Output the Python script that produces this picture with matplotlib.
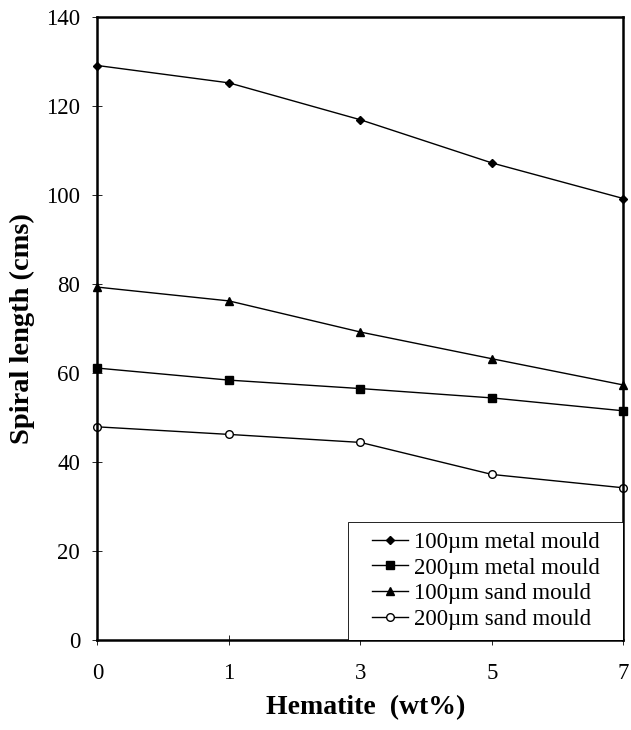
import matplotlib
matplotlib.use('Agg')
import matplotlib.pyplot as plt
from matplotlib.patches import Rectangle

plt.rcParams['font.family'] = ['Liberation Serif', 'DejaVu Serif']

hematite = ['0', '1', '3', '5', '7']
metal_100 = [129.1, 125.2, 116.9, 107.2, 99.2]
metal_200 = [61.1, 58.4, 56.5, 54.4, 51.5]
sand_100 = [79.3, 76.2, 69.2, 63.2, 57.3]
sand_200 = [47.9, 46.2, 44.4, 37.2, 34.2]

fig = plt.figure(figsize=(6.31, 7.30), dpi=100)
ax = fig.add_axes([0.1545, 0.1233, 0.8336, 0.8534])

x = range(len(hematite))
ax.plot(x, metal_100, '-D', color='black', lw=1, ms=4, clip_on=False, label='100µm metal mould')
ax.plot(x, metal_200, '-s', color='black', lw=1, ms=6, clip_on=False, label='200µm metal mould')
ax.plot(x, sand_100, '-^', color='black', lw=1, ms=6, clip_on=False, label='100µm sand mould')
ax.plot(x, sand_200, '-o', color='black', lw=1, ms=5.5, mfc='white', clip_on=False, label='200µm sand mould')

ax.set_xlim(0, len(hematite) - 1)
ax.set_ylim(0, 140)
ax.set_xticks(list(x))
ax.set_xticklabels(hematite)
ax.set_yticks(range(0, 141, 20))
ax.tick_params(labelsize=16.5, direction='inout', length=7, width=0.6)
ax.tick_params(axis='y', pad=9)
ax.tick_params(axis='x', pad=13)
for s in ax.spines.values():
    s.set_linewidth(1.8)

ax.set_ylabel('Spiral length (cms)', fontsize=20.5, fontweight='bold', va='center')
ax.yaxis.set_label_coords(-0.142, 0.5)
ax.set_xlabel('Hematite  (wt%)', fontsize=20, fontweight='bold', va='center')
ax.xaxis.set_label_coords(0.51, -0.108)

# legend box is wider than its content in the original
box = (0.476, 0.0, 0.524, 0.19)
ax.add_patch(Rectangle(box[:2], box[2], box[3], transform=ax.transAxes,
                       facecolor='white', edgecolor='black', lw=0.6, zorder=4))
ax.legend(loc='center', bbox_to_anchor=box, fontsize=16.5, frameon=False,
          handlelength=1.6, handletextpad=0.25, labelspacing=0.2,
          borderpad=0.2, borderaxespad=0.0)

plt.savefig('out.png', dpi=100)
